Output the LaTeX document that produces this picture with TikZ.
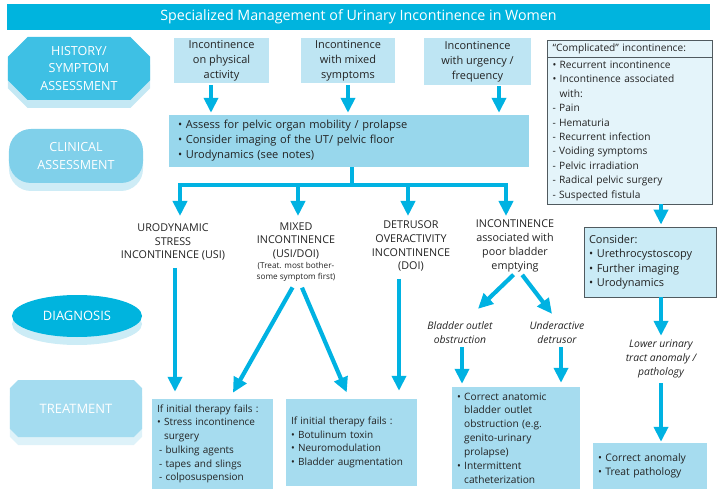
\documentclass[tikz,border=0pt]{standalone}
\usepackage{fontspec}
\setmainfont{Open Sans}
\usepackage{tikz}
\usetikzlibrary{shapes,arrows.meta,positioning,calc,shadows}
\definecolor{mainblue}{RGB}{0,180,222}
\definecolor{arrblue}{RGB}{0,178,226}
\definecolor{histfill}{RGB}{62,192,228}
\definecolor{histshade}{RGB}{196,232,244}
\definecolor{clinfill}{RGB}{128,208,234}
\definecolor{clinshade}{RGB}{206,236,246}
\definecolor{diagshade}{RGB}{204,236,246}
\definecolor{trtfill}{RGB}{164,220,240}
\definecolor{trtshade}{RGB}{222,242,249}
\definecolor{topfill}{RGB}{190,229,243}
\definecolor{assfill}{RGB}{152,215,236}
\definecolor{trtbox}{RGB}{166,220,239}
\definecolor{cfill}{RGB}{228,244,250}
\definecolor{confill}{RGB}{202,235,246}
\definecolor{cborder}{RGB}{80,90,95}
\definecolor{txt}{RGB}{35,35,35}

\begin{document}
\begin{tikzpicture}[x=1bp,y=-1bp,every node/.style={text=txt},
lbl/.style={text=white,align=center,font=\fontsize{12.6}{17.5}\selectfont,inner sep=0pt},
shade/.style={drop shadow={shadow xshift=0bp,shadow yshift=-8bp,fill=#1,opacity=1}},
box/.style={fill=#1,inner sep=0pt,align=center,font=\fontsize{11}{15}\selectfont},
lbox/.style={fill=#1,inner xsep=5bp,inner ysep=0pt,align=left,font=\fontsize{10}{13.8}\selectfont},
diag/.style={align=center,font=\fontsize{10.8}{14}\selectfont,inner sep=1bp},
note/.style={align=center,font=\itshape\fontsize{10.4}{14}\selectfont,inner sep=1bp},
arr/.style={-{Triangle[width=14bp,length=15bp]},line width=4.2bp,draw=arrblue},
ln/.style={line width=4.2bp,draw=arrblue}]
\useasboundingbox (0,0) rectangle (717,489);
\node[fill=mainblue,text=white,minimum width=703bp,minimum height=26bp,inner sep=0pt,font=\fontsize{14.3}{16}\selectfont](ttl) at (358.5,17){Specialized Management of Urinary Incontinence in Women};
% row labels
\node[lbl,chamfered rectangle,chamfered rectangle xsep=16bp,fill=histfill,minimum width=142bp,minimum height=63bp,shade=histshade](hist) at (79,68.5){HISTORY/\\SYMPTOM\\ASSESSMENT};
\node[lbl,rectangle,rounded corners=22bp,fill=clinfill,minimum width=134bp,minimum height=54bp,shade=clinshade](clin) at (76,156){CLINICAL\\ASSESSMENT};
\node[lbl,ellipse,fill=mainblue,font=\fontsize{13}{16}\selectfont,minimum width=130bp,minimum height=42bp,shade=diagshade](dgn) at (77,316){DIAGNOSIS};
\node[lbl,chamfered rectangle,chamfered rectangle xsep=16bp,fill=trtfill,font=\fontsize{13}{16}\selectfont,minimum width=132bp,minimum height=57bp,shade=trtshade](trt) at (76,408.5){TREATMENT};
% history and clinical assessment
\node[box=topfill,minimum width=95bp,minimum height=45bp](phys) at (221.5,60.5){Incontinence\\on physical\\activity};
\node[box=topfill,minimum width=94bp,minimum height=45bp](mixs) at (348,60.5){Incontinence\\with mixed\\symptoms};
\node[box=topfill,minimum width=107bp,minimum height=47bp](urg) at (477.5,61.5){Incontinence\\with urgency /\\frequency};
\node[lbox=assfill,text width=342bp,minimum height=52bp,inner xsep=9bp,font=\fontsize{11.1}{15}\selectfont](ass) at (349,141){• Assess for pelvic organ mobility / prolapse\\• Consider imaging of the UT/ pelvic floor\\• Urodynamics (see notes)};
\node[rectangle split,rectangle split parts=2,draw=cborder,fill=cfill,line width=.8bp,text width=155bp,inner xsep=5bp,inner ysep=3bp,align=left,font=\fontsize{10.2}{14.5}\selectfont,anchor=north](cplx) at (630,40){“Complicated” incontinence:\nodepart{two}• Recurrent incontinence\\• Incontinence associated\\\phantom{• }with:\\- Pain\\- Hematuria\\- Recurrent infection\\- Voiding symptoms\\- Pelvic irradiation\\- Radical pelvic surgery\\- Suspected fistula};
\node[lbox=confill,draw=cborder,line width=.8bp,text width=122bp,minimum height=70bp,font=\fontsize{11}{14.5}\selectfont](cons) at (650,262){Consider:\\• Urethrocystoscopy\\• Further imaging\\• Urodynamics};
\node[note](low) at (661,359){Lower urinary\\tract anomaly /\\pathology};
\node[lbox=trtbox,text width=104bp,minimum height=46bp,font=\fontsize{10.4}{13.5}\selectfont](fix) at (650,466){• Correct anomaly\\• Treat pathology};
% diagnosis
\node[diag](usi) at (173,242){URODYNAMIC\\STRESS\\INCONTINENCE (USI)};
\node[diag](mix) at (296,241){MIXED\\INCONTINENCE\\(USI/DOI)};
\node[diag,font=\fontsize{8.2}{11.7}\selectfont,below=0bp of mix](mixn){(Treat. most bother-\\some symptom first)};
\node[diag](doi) at (411,246){DETRUSOR\\OVERACTIVITY\\INCONTINENCE\\(DOI)};
\node[diag](poor) at (515,246){INCONTINENCE\\associated with\\poor bladder\\emptying};
\node[note](outl) at (460,333){Bladder outlet\\obstruction};
\node[note](under) at (557,333){Underactive\\detrusor};
% treatment
\node[lbox=trtbox,text width=111bp,minimum height=90bp](t1) at (212.5,444){If initial therapy fails :\\• Stress incontinence\\\phantom{• }surgery\\\hspace*{2bp}- bulking agents\\\hspace*{2bp}- tapes and slings\\\hspace*{2bp}- colposuspension};
\node[lbox=trtbox,text width=121bp,minimum height=87bp](t2) at (351.5,442.5){If initial therapy fails :\\• Botulinum toxin\\• Neuromodulation\\• Bladder augmentation};
\node[lbox=trtbox,text width=118bp,minimum height=102bp,font=\fontsize{10.2}{13.9}\selectfont](t3) at (516,438){• Correct anatomic\\\phantom{• }bladder outlet\\\phantom{• }obstruction (e.g.\\\phantom{• }genito-urinary\\\phantom{• }prolapse)\\• Intermittent\\\phantom{• }catheterization};
% connectors
\draw[arr,shorten <=2bp,shorten >=2bp]([xshift=-10.5bp]phys.south)--([xshift=-10.5bp]phys.south |- ass.north);
\draw[arr,shorten <=2bp,shorten >=2bp](mixs.south)--(mixs.south |- ass.north);
\draw[arr,shorten <=1bp,shorten >=2bp]([xshift=21.5bp]urg.south)--([xshift=21.5bp]urg.south |- ass.north);
\coordinate(br) at (352,185); \coordinate(b1) at (180,185); \coordinate(b2) at (298,185); \coordinate(b3) at (408,185); \coordinate(b4) at (506,185);
\draw[ln](ass.south -| br)--(br); \draw[ln,line cap=rect](b1)--(b4);
\foreach \b in {b1,b2,b3,b4} \draw[arr](\b)--++(0,31);
\draw[arr,shorten <=6bp,shorten >=7bp]([xshift=2bp]usi.south)--([xshift=2bp]usi.south |- t1.north);
\draw[arr,shorten <=5bp,shorten >=7bp]([xshift=-1bp]mixn.south)--([xshift=17bp]t1.north);
\draw[arr,shorten <=5bp,shorten >=7bp]([xshift=4bp]mixn.south)--([xshift=-2bp]t2.north);
\draw[arr,shorten <=6bp,shorten >=8bp]([xshift=-12bp]doi.south)--([xshift=-12bp]doi.south |- t2.north);
\draw[arr,shorten <=2bp]([xshift=0bp]poor.south)--([xshift=18bp,yshift=12bp]outl.north);
\draw[arr,shorten <=2bp]([xshift=6bp]poor.south)--([xshift=-5bp,yshift=7bp]under.north);
\draw[arr,shorten <=2bp,shorten >=3bp]([xshift=2bp]outl.south)--([xshift=2bp]outl.south |- t3.north);
\draw[arr,shorten <=2bp,shorten >=4bp]([xshift=4bp]under.south)--([xshift=4bp]under.south |- t3.north);
\draw[arr,shorten >=2bp](cplx.south -| low)--(cons.north -| low);
\draw[arr,shorten >=3bp](cons.south -| low)--(low.north);
\draw[arr,shorten <=4bp,shorten >=1bp](low.south)--(fix.north -| low);
\end{tikzpicture}
\end{document}
